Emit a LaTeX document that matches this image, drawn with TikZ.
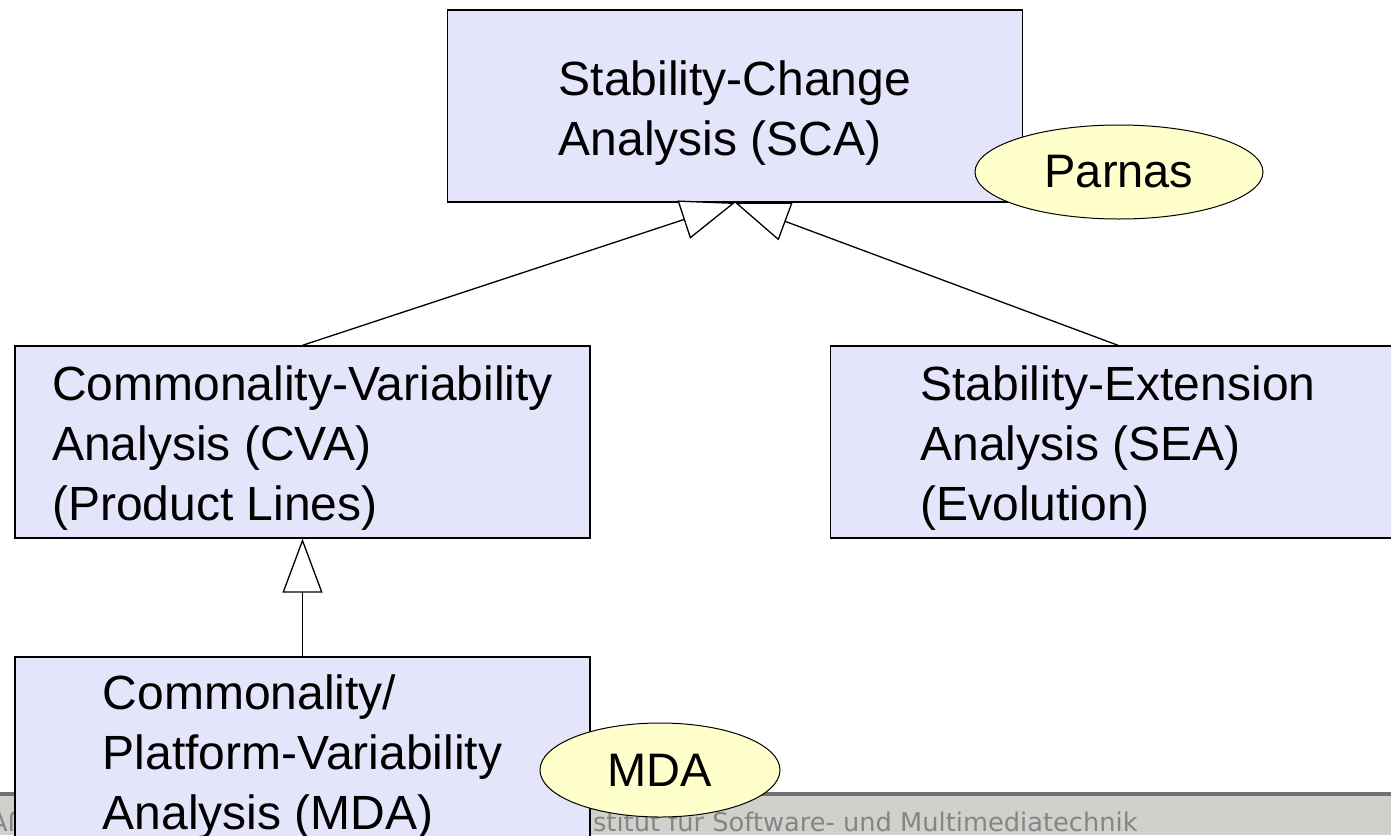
\documentclass[tikz,border=0pt]{standalone}
\usepackage{fontspec}
\setmainfont{Liberation Sans}
\newfontfamily\footerfont{DejaVu Sans}
\usetikzlibrary{arrows.meta,shapes.geometric}
\definecolor{boxfill}{HTML}{E4E4FB}
\definecolor{notefill}{HTML}{FFFFCC}
\definecolor{bandfill}{HTML}{D0D0CD}
\definecolor{bandline}{HTML}{707070}
\definecolor{footertext}{HTML}{858585}
\tikzset{
  classbox/.style={draw=black, line width=1.4pt, fill=boxfill, rectangle,
    minimum width=575pt, minimum height=192pt, inner sep=0pt},
  boxtext/.style={inner sep=0pt, align=left,
    font=\fontsize{48}{60}\selectfont},
  notebubble/.style={draw=black, line width=1pt, fill=notefill, ellipse,
    inner sep=0pt, font=\fontsize{47}{56}\selectfont},
  inherits/.style={line width=1.3pt,
    -{Triangle[fill=white,length=54pt,width=40pt]}},
  footertxt/.style={text=footertext, inner sep=0pt,
    font=\footerfont\fontsize{25.7}{30}\selectfont}
}
\begin{document}
\begin{tikzpicture}[x=1pt,y=-1pt]
  \useasboundingbox (0,0) rectangle (1391,835);
  \clip (0,0) rectangle (1391,835);
  \fill[white] (0,0) rectangle (1391,835);

  % footer band
  \fill[bandfill] (0,792) rectangle (1391,835);
  \fill[bandline] (0,792) rectangle (1391,796);
  \node[footertxt, anchor=base west] (footA) at (-10,831) {Aßmann};
  \node[footertxt, anchor=base west] (footB) at (569,831) {Institut für Software- und Multimediatechnik};

  % analysis boxes
  \node[classbox] (sca) at (735,106) {};
  \node[classbox] (cva) at (302.5,442) {};
  \node[classbox] (sea) at (1118,442) {};
  \node[classbox] (mda) at (302.5,753) {};

  % box captions
  \node[boxtext] (scatext) at ([yshift=-7pt]sca.center) {Stability-Change\\Analysis (SCA)};
  \node[boxtext] (cvatext) at ([yshift=-6pt]cva.center) {Commonality-Variability\\Analysis (CVA)\\(Product Lines)};
  \node[boxtext] (seatext) at ([yshift=-6pt]sea.center) {Stability-Extension\\Analysis (SEA)\\(Evolution)};
  \node[boxtext] (mdatext) at ([yshift=-4pt]mda.center) {Commonality/\\Platform-Variability\\Analysis (MDA)};

  % generalisation connectors
  \draw[inherits] (cva.north) -- (sca.south);
  \draw[inherits] (sea.north) -- (sca.south);
  \draw[inherits] (mda.north) -- (cva.south);

  % notes
  \node[notebubble, minimum width=288pt, minimum height=94pt] (parnas) at (1119,172) {Parnas};
  \node[notebubble, minimum width=240pt, minimum height=94pt] (mdanote) at (660,770) {MDA};
\end{tikzpicture}
\end{document}
